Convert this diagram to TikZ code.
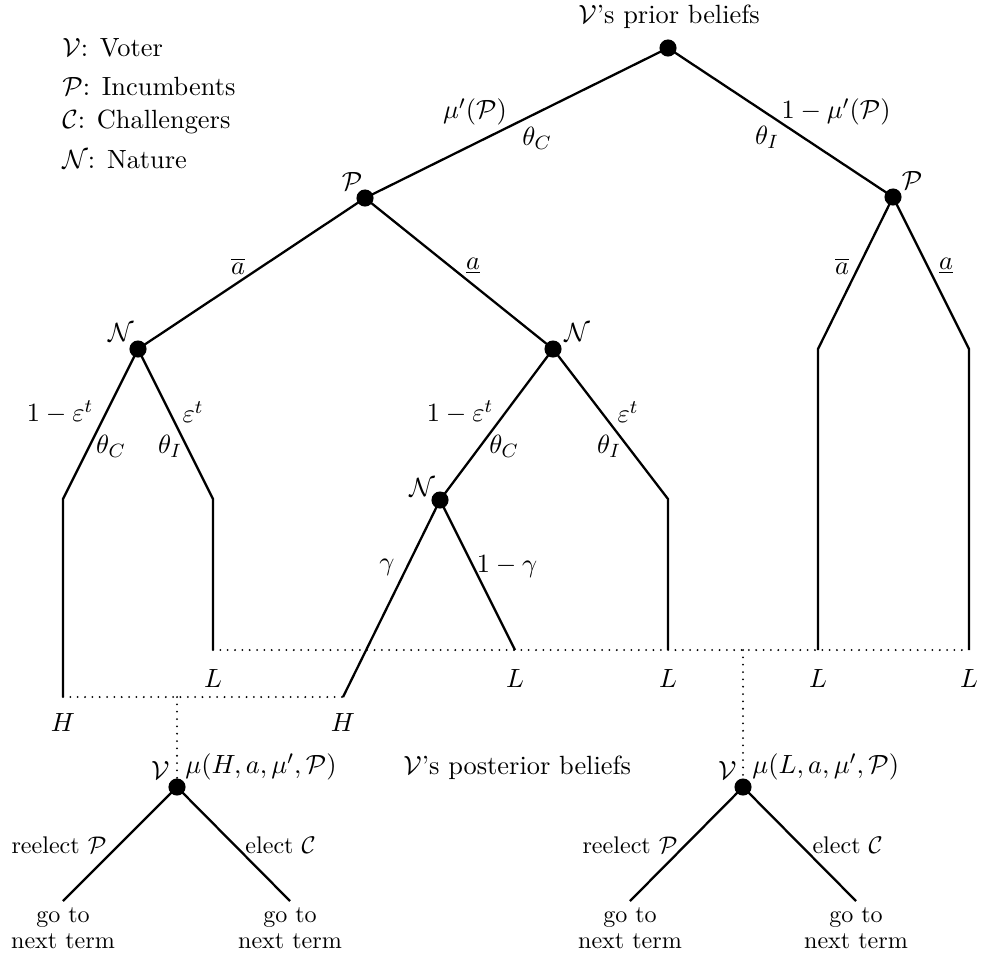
\documentclass[tikz,border=0pt]{standalone}
\usepackage{amsmath,amssymb}
\begin{document}
\begin{tikzpicture}[x=0.0146cm,y=-0.0146cm,
  dot/.style={circle,fill=black,inner sep=0pt,minimum size=0.25cm},
  br/.style={line width=0.95pt},
  dots/.style={line width=0.85pt,dash pattern=on 0pt off 3.05pt,line cap=round},
  lbl/.style={inner sep=0pt,font=\fontsize{10.95}{13.6}\selectfont},
  sml/.style={inner sep=0pt,font=\normalsize}]
\useasboundingbox (0,0) rectangle (981,959);
% decision nodes
\node[dot] (r) at (668,48) {};
\node[dot] (pl) at (365,198) {};
\node[dot] (pr) at (893,197) {};
\node[dot] (nl) at (138,349) {};
\node[dot] (nm) at (553,349) {};
\node[dot] (n2) at (440,500) {};
\node[dot] (vl) at (177,787) {};
\node[dot] (vr) at (743,787) {};
% bend points and ends
\coordinate (b1) at (63,499);
\coordinate (b2) at (213,499);
\coordinate (b3) at (668,499);
\coordinate (b4) at (818,349);
\coordinate (b5) at (969,349);
\coordinate (h1) at (63,697);
\coordinate (l1) at (213,650);
\coordinate (h2) at (343,697);
\coordinate (l2) at (515,650);
\coordinate (l3) at (668,650);
\coordinate (l4) at (818,650);
\coordinate (l5) at (969,650);
\coordinate (hm) at (177,697);
\coordinate (lm) at (743,650);
\coordinate (e1) at (63,901);
\coordinate (e2) at (290,901);
\coordinate (e3) at (630,901);
\coordinate (e4) at (856,901);
% branches
\draw[br] (pl.center) -- (r.center) -- (pr.center);
\draw[br] (nl.center) -- (pl.center) -- (nm.center);
\draw[br] (h1) -- (b1) -- (nl.center) -- (b2) -- (l1);
\draw[br] (n2.center) -- (nm.center) -- (b3) -- (l3);
\draw[br] (h2) -- (n2.center) -- (l2);
\draw[br] (l4) -- (b4) -- (pr.center) -- (b5) -- (l5);
\draw[br] (e1) -- (vl.center) -- (e2);
\draw[br] (e3) -- (vr.center) -- (e4);
% information sets
\draw[dots] (h1) -- (h2);
\draw[dots] (l1) -- (l5);
\draw[dots] (hm) -- (vl.center);
\draw[dots] (lm) -- (vr.center);
% legend
\node[lbl,anchor=west] (lg1) at (62,48) {$\mathcal{V}$: Voter};
\node[lbl,anchor=west] (lg2) at (62,86) {$\mathcal{P}$: Incumbents};
\node[lbl,anchor=west] (lg3) at (62,122) {$\mathcal{C}$: Challengers};
\node[lbl,anchor=west] (lg4) at (62,160) {$\mathcal{N}$: Nature};
% top labels
\node[lbl,anchor=west] (prior) at (578,17) {$\mathcal{V}$'s prior beliefs};
\node[lbl] (mu1) at (475,112) {$\mu'(\mathcal{P})$};
\node[lbl] (tc0) at (537,138) {$\theta_C$};
\node[lbl] (mu2) at (836,112) {$1-\mu'(\mathcal{P})$};
\node[lbl] (ti0) at (767,137) {$\theta_I$};
\node[lbl] (plab) at (352,181) {$\mathcal{P}$};
\node[lbl] (prlab) at (912,180) {$\mathcal{P}$};
\node[lbl] (ab1) at (238,266) {$\overline{a}$};
\node[lbl] (au1) at (473,266) {$\underline{a}$};
\node[lbl] (ab2) at (842,266) {$\overline{a}$};
\node[lbl] (au2) at (946,266) {$\underline{a}$};
\node[lbl] (nllab) at (121,332) {$\mathcal{N}$};
\node[lbl] (nmlab) at (577,332) {$\mathcal{N}$};
\node[lbl] (n2lab) at (422,487) {$\mathcal{N}$};
% nature labels
\node[lbl] (eps1) at (60,412) {$1-\varepsilon^t$};
\node[lbl] (tc1) at (111,446) {$\theta_C$};
\node[lbl] (ep1) at (193,412) {$\varepsilon^t$};
\node[lbl] (ti1) at (170,446) {$\theta_I$};
\node[lbl] (eps2) at (460,412) {$1-\varepsilon^t$};
\node[lbl] (tc2) at (504,446) {$\theta_C$};
\node[lbl] (ep2) at (628,412) {$\varepsilon^t$};
\node[lbl] (ti2) at (609,446) {$\theta_I$};
\node[lbl] (gam) at (387,567) {$\gamma$};
\node[lbl] (gam2) at (507,567) {$1-\gamma$};
% terminal labels
\node[lbl] (L1) at (213,678) {$L$};
\node[lbl] (L2) at (515,678) {$L$};
\node[lbl] (L3) at (668,678) {$L$};
\node[lbl] (L4) at (818,678) {$L$};
\node[lbl] (L5) at (969,678) {$L$};
\node[lbl] (H1) at (63,722) {$H$};
\node[lbl] (H2) at (343,722) {$H$};
% voter
\node[lbl,anchor=east] (vll) at (170,770) {$\mathcal{V}$};
\node[lbl,anchor=west] (mul) at (185,767) {$\mu(H,a,\mu',\mathcal{P})$};
\node[lbl,anchor=west] (post) at (403,768) {$\mathcal{V}$'s posterior beliefs};
\node[lbl,anchor=east] (vrl) at (737,770) {$\mathcal{V}$};
\node[lbl,anchor=west] (mur) at (752,767) {$\mu(L,a,\mu',\mathcal{P})$};
\node[sml,anchor=east] (re1) at (107,845) {reelect $\mathcal{P}$};
\node[sml,anchor=west] (el1) at (245,845) {elect $\mathcal{C}$};
\node[sml,anchor=east] (re2) at (678,845) {reelect $\mathcal{P}$};
\node[sml,anchor=west] (el2) at (812,845) {elect $\mathcal{C}$};
\foreach \n/\x in {g1/63,g2/290,g3/630,g4/856}{
  \node[sml,align=center,anchor=north] (\n) at (\x,907) {go to\\[-1pt]next term};
}
\end{tikzpicture}
\end{document}
